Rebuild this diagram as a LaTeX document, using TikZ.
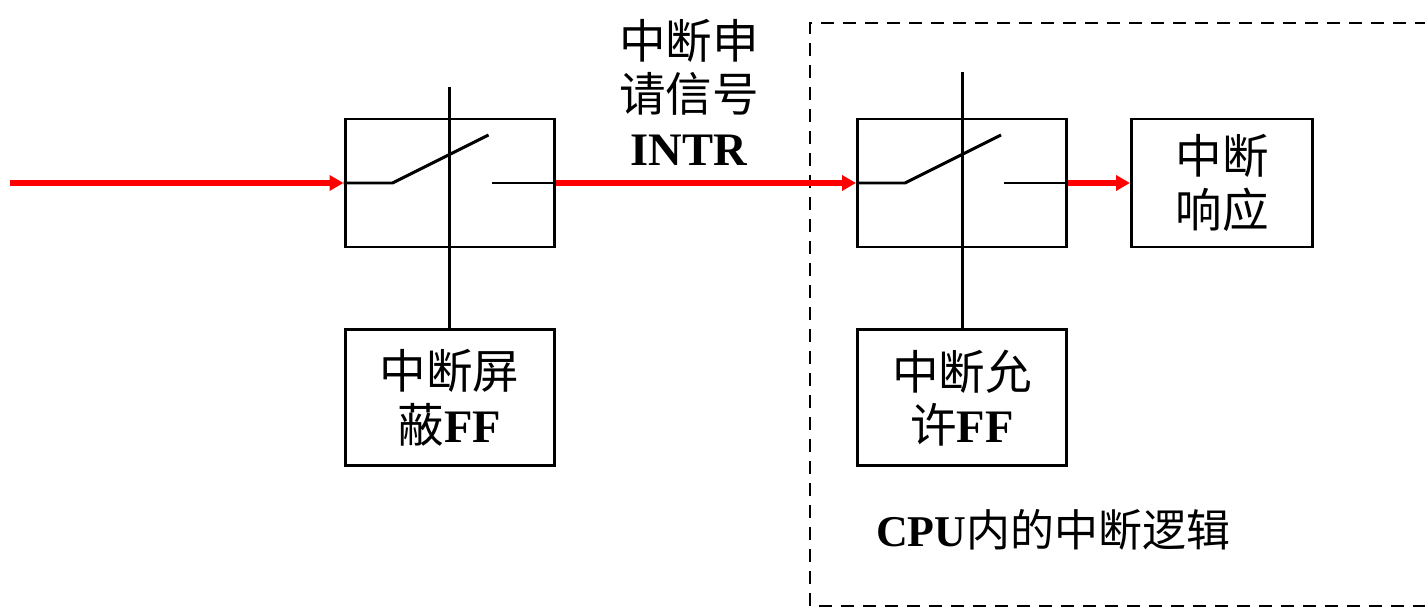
\documentclass[tikz,border=0pt]{standalone}
\usepackage{fontspec}
\setmainfont{Liberation Serif}
\newfontfamily\cjk{Noto Sans CJK SC}
\usetikzlibrary{arrows.meta, positioning}
\newcommand{\bl}[1]{{\rmfamily\bfseries #1}}

\begin{document}
\begin{tikzpicture}[node distance=1.6cm,
  box/.style={draw, line width=1.7pt, minimum width=4.18cm, minimum height=2.56cm, inner sep=0pt},
  ffbox/.style={box, minimum height=2.72cm, align=center, font=\cjk\fontsize{26.5}{30.5}\selectfont},
  sig/.style={draw=red, line width=3.4pt, -{Triangle[length=0.28cm, width=0.3cm]}},
  wire/.style={line width=1.7pt},
  txt/.style={align=center, font=\cjk\fontsize{26.5}{30.5}\selectfont}]
\useasboundingbox (0,0) rectangle (28.5,-12.28);

% CPU part, dashed outline
\draw[line width=1.4pt, dash pattern=on 0.26cm off 0.18cm] (29,-0.46) -- (16.2,-0.46) -- (16.2,-12.12) -- (29,-12.12);

% switches
\node[box] (sw1) at (8.99,-3.66) {};
\node[box] (sw2) at (19.24,-3.66) {};
\node[box, minimum width=3.62cm, right=1.24cm of sw2, txt] (resp) {中断\\响应};

% flip-flops
\node[ffbox, below=of sw1] (mask) {中断屏\\蔽{\bl{FF}}};
\node[ffbox, below=of sw2] (enable) {中断允\\许{\bl{FF}}};

% contacts
\draw[wire] (sw1.west) -- ++(0.98,0) -- ++(1.92,0.96);
\draw[wire] (sw1.east) -- ++(-1.28,0);
\draw[wire] (sw2.west) -- ++(0.98,0) -- ++(1.92,0.96);
\draw[wire] (sw2.east) -- ++(-1.28,0);

% control lines
\coordinate (top1) at (8.99,-1.74);
\coordinate (top2) at (19.24,-1.44);
\draw[wire] (top1) -- (mask.north);
\draw[wire] (top2) -- (enable.north);

% signal path
\coordinate (src) at (0.2,-3.66);
\draw[sig] (src) -- (sw1.west);
\draw[sig] (sw1.east) -- (sw2.west);
\draw[sig] (sw2.east) -- (resp.west);

\node[txt] (intr) at (13.78,-1.84) {中断申\\请信号\\\bl{INTR}};
\node[txt, font=\cjk\fontsize{25}{30.5}\selectfont] (cpu) at (21.06,-10.6) {\bl{CPU}内的中断逻辑};
\end{tikzpicture}
\end{document}
